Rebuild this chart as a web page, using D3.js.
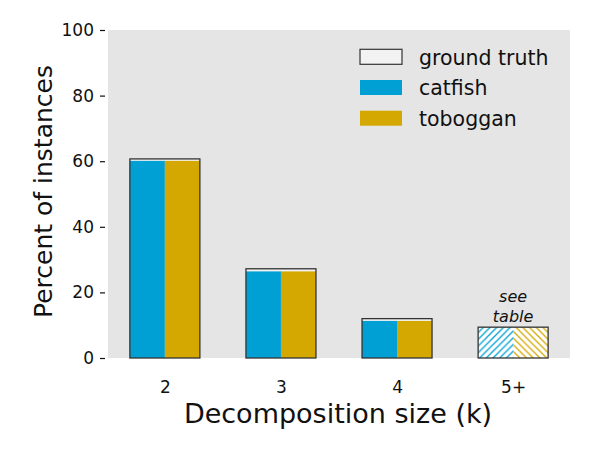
<!DOCTYPE html>
<html>
<head>
<meta charset="utf-8">
<script src="https://cdn.jsdelivr.net/npm/d3@7"></script>
<style>
  body { margin: 0; background: #fff; }
  text { font-family: "DejaVu Sans", sans-serif; fill: #111; }
</style>
</head>
<body>
<svg id="chart" width="600" height="450"></svg>
<script>
// values
const categories = ["2", "3", "4", "5+"];
const groundTruth = [60.7, 27.2, 12.0, 9.4];
const catfish = [60.1, 26.4, 11.3, null];   // 5+ shown hatched, "see table"
const toboggan = [60.1, 26.4, 11.3, null];
const yTicks = [0, 20, 40, 60, 80, 100];

const blue = "#00a0d4", gold = "#d4a800";

const svg = d3.select("#chart");
const plotLeft = 108, plotRight = 570, plotTop = 30, plotBottom = 358;

const x = d3.scalePoint().domain(categories).range([plotLeft, plotRight]).padding(0.49);
const y = d3.scaleLinear().domain([0, 100]).range([plotBottom, plotTop]);
const barW = 70;

// hatch patterns, anchored at the middle of the 5+ bar so they meet in a chevron
const defs = svg.append("defs");
const hp = 6.7;
function hatch(id, color, d) {
  const p = defs.append("pattern").attr("id", id)
    .attr("patternUnits", "userSpaceOnUse")
    .attr("x", x("5+")).attr("y", plotBottom)
    .attr("width", hp).attr("height", hp);
  p.append("rect").attr("width", hp).attr("height", hp).style("fill", "#fff");
  p.append("path").attr("d", d)
    .style("stroke", color).style("stroke-width", 1.3).style("fill", "none");
}
hatch("hatchBlue", blue, `M-1,1 L1,-1 M0,${hp} L${hp},0 M${hp - 1},${hp + 1} L${hp + 1},${hp - 1}`);
hatch("hatchGold", gold, `M-1,${hp - 1} L1,${hp + 1} M0,0 L${hp},${hp} M${hp - 1},-1 L${hp + 1},1`);

// plot background
svg.append("rect").attr("x", plotLeft).attr("y", plotTop)
  .attr("width", plotRight - plotLeft).attr("height", plotBottom - plotTop).attr("fill", "#e5e5e5");

// ground truth bars (light fill behind)
svg.selectAll("rect.gt").data(categories).enter().append("rect")
  .attr("class", "gt")
  .attr("x", d => x(d) - barW / 2)
  .attr("y", (d, i) => y(groundTruth[i]))
  .attr("width", barW)
  .attr("height", (d, i) => y(0) - y(groundTruth[i]))
  .attr("fill", "#f2f2f2");

// catfish / toboggan halves
categories.forEach((c, i) => {
  const isHatch = catfish[i] === null;
  const v1 = isHatch ? groundTruth[i] : catfish[i];
  const v2 = isHatch ? groundTruth[i] : toboggan[i];
  svg.append("rect")
    .attr("x", x(c) - barW / 2).attr("y", y(v1))
    .attr("width", barW / 2).attr("height", y(0) - y(v1))
    .style("fill", isHatch ? "url(#hatchBlue)" : blue);
  svg.append("rect")
    .attr("x", x(c)).attr("y", y(v2))
    .attr("width", barW / 2).attr("height", y(0) - y(v2))
    .style("fill", isHatch ? "url(#hatchGold)" : gold);
});

// ground truth outlines on top
svg.selectAll("rect.gtline").data(categories).enter().append("rect")
  .attr("class", "gtline")
  .attr("x", d => x(d) - barW / 2)
  .attr("y", (d, i) => y(groundTruth[i]))
  .attr("width", barW)
  .attr("height", (d, i) => y(0) - y(groundTruth[i]))
  .attr("fill", "none").attr("stroke", "#333").attr("stroke-width", 1.3);

// "see table" note
const note = svg.append("text")
  .attr("text-anchor", "middle")
  .style("font-style", "italic").style("font-size", "16px");
note.append("tspan").attr("x", x("5+")).attr("y", y(groundTruth[3]) - 25.5).text("see");
note.append("tspan").attr("x", x("5+")).attr("y", y(groundTruth[3]) - 5).text("table");

// y axis
const yAxis = d3.axisLeft(y).tickValues(yTicks).tickSize(5).tickPadding(6);
const gy = svg.append("g").attr("transform", `translate(${plotLeft - 3},0)`).call(yAxis);
gy.select(".domain").remove();
gy.selectAll("line").attr("stroke", "#111").attr("stroke-width", 1.2);
gy.selectAll("text").style("font-size", "17px").style("font-family", "DejaVu Sans");

// x axis
const xAxis = d3.axisBottom(x).tickSize(0).tickPadding(23);
const gx = svg.append("g").attr("transform", `translate(0,${plotBottom})`).call(xAxis);
gx.select(".domain").remove();
gx.selectAll("text").style("font-size", "17px").style("font-family", "DejaVu Sans");

svg.append("text").attr("x", (plotLeft + plotRight) / 2 - 1).attr("y", 423)
  .attr("text-anchor", "middle").style("font-size", "27px")
  .text("Decomposition size (k)");

svg.append("text")
  .attr("transform", "translate(52,191.5) rotate(-90)")
  .attr("text-anchor", "middle").style("font-size", "25px")
  .text("Percent of instances");

// legend
const legendItems = [
  { label: "ground truth", fill: "#f2f2f2", stroke: "#333" },
  { label: "catfish", fill: blue, stroke: "none" },
  { label: "toboggan", fill: gold, stroke: "none" }
];
const lg = svg.append("g").attr("transform", "translate(360,49.3)");
legendItems.forEach((it, i) => {
  lg.append("rect").attr("x", 0).attr("y", i * 30.7)
    .attr("width", 42).attr("height", 15)
    .attr("fill", it.fill).attr("stroke", it.stroke).attr("stroke-width", 1.2);
  lg.append("text").attr("x", 59).attr("y", i * 30.7 + 15.5)
    .style("font-size", "20.5px").text(it.label);
});
</script>
</body>
</html>
